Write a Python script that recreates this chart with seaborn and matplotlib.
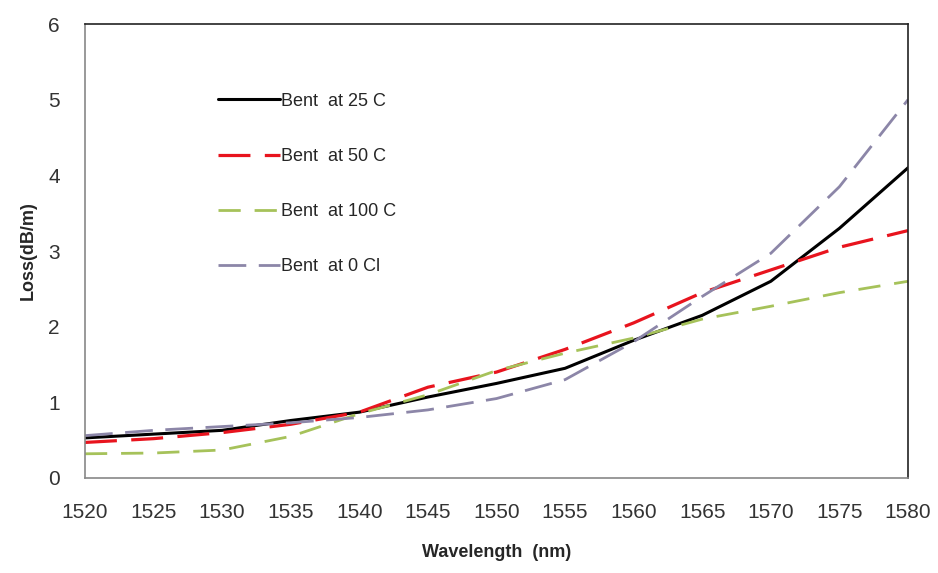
"""Bending loss versus wavelength at several temperatures."""

import matplotlib

matplotlib.use("Agg")

import matplotlib.pyplot as plt
import pandas as pd
import seaborn as sns

WAVELENGTH = [1520, 1525, 1530, 1535, 1540, 1545, 1550, 1555, 1560, 1565, 1570, 1575, 1580]

LOSS_25C = [0.53, 0.58, 0.63, 0.76, 0.87, 1.07, 1.25, 1.45, 1.82, 2.15, 2.6, 3.3, 4.1]
LOSS_50C = [0.47, 0.52, 0.6, 0.71, 0.87, 1.2, 1.4, 1.7, 2.05, 2.45, 2.75, 3.05, 3.27]
LOSS_100C = [0.32, 0.33, 0.37, 0.55, 0.85, 1.1, 1.42, 1.65, 1.85, 2.1, 2.27, 2.45, 2.6]
LOSS_0C = [0.56, 0.63, 0.68, 0.73, 0.8, 0.9, 1.05, 1.3, 1.8, 2.4, 2.97, 3.85, 5.0]

SERIES = [
    ("Bent  at 25 C", LOSS_25C, "black", None, 2.2),
    ("Bent  at 50 C", LOSS_50C, "#e8141e", (10, 4.5), 2.3),
    ("Bent  at 100 C", LOSS_100C, "#a6c25a", (8, 5), 2.0),
    ("Bent  at 0 Cl", LOSS_0C, "#8c86a8", (10, 4.5), 2.0),
]

sns.set_theme(style="white")
plt.rcParams["font.family"] = ["Liberation Sans", "DejaVu Sans"]

fig = plt.figure(figsize=(9.38, 5.73), dpi=100)
ax = fig.add_axes([0.0906, 0.1658, 0.8774, 0.7922])

for label, values, color, dashes, width in SERIES:
    frame = pd.DataFrame({"wavelength": WAVELENGTH, "loss": values})
    line = sns.lineplot(data=frame, x="wavelength", y="loss", ax=ax, color=color,
                        linewidth=width, label=label)
    if dashes is not None:
        line.lines[-1].set_dashes(dashes)

ax.set_xlim(1520, 1580)
ax.set_ylim(0, 6)
ax.set_xticks(range(1520, 1581, 5))
ax.set_yticks(range(0, 7))
ax.tick_params(axis="both", length=0, labelsize=15, labelcolor="#333333")
ax.tick_params(axis="x", pad=18)
ax.tick_params(axis="y", pad=18)
ax.set_xlabel("Wavelength  (nm)", fontsize=13, fontweight="bold", labelpad=16)
ax.set_ylabel("Loss(dB/m)", fontsize=13, fontweight="bold", labelpad=8)

for side in ["top", "right"]:
    ax.spines[side].set_color("#222222")
for side in ["left", "bottom"]:
    ax.spines[side].set_color("#888888")
for spine in ax.spines.values():
    spine.set_linewidth(1.2)

ax.legend(loc="upper left", bbox_to_anchor=(0.162, 0.849), frameon=False,
          fontsize=13, handlelength=3.4, handletextpad=0.05, labelspacing=2.12,
          borderpad=0, borderaxespad=0)

fig.savefig("out.png", dpi=100)
